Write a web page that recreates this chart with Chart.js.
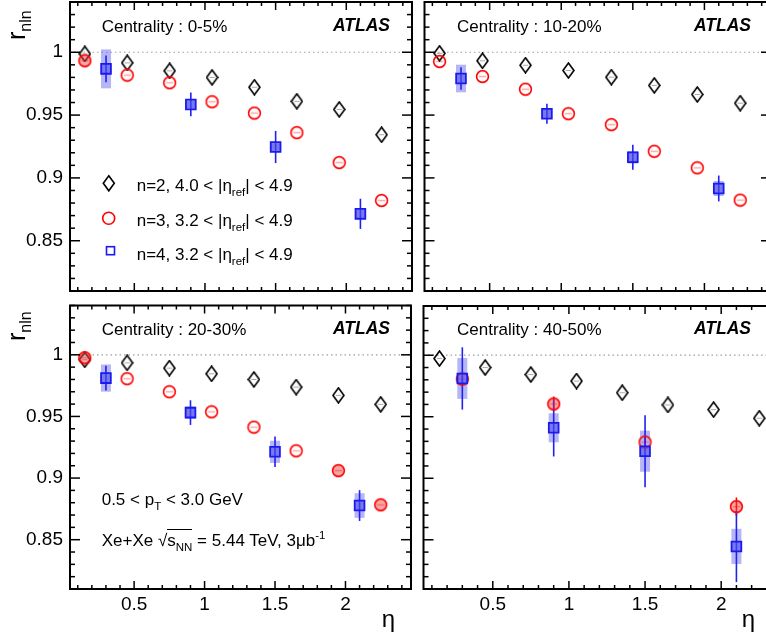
<!DOCTYPE html>
<html>
<head>
<meta charset="utf-8">
<script src="https://cdn.jsdelivr.net/npm/chart.js@4.4.0/dist/chart.umd.min.js"></script>
<style>
  html, body { margin: 0; padding: 0; background: #fff; }
  body { position: relative; width: 766px; height: 641px; overflow: hidden;
         font-family: "Liberation Sans", Arial, Helvetica, sans-serif; color: #000; }
  canvas { position: absolute; left: 0; top: 0; }
  .t { position: absolute; white-space: nowrap; font-size: 17px; line-height: 1; }
  .atlas { font-weight: bold; font-style: italic; font-size: 17.5px; }
  .sub { font-size: 11.5px; position: relative; top: 5px; }
  .sup { font-size: 11.5px; position: relative; top: -7px; }
  .ov { border-top: 1px solid #000; padding-top: 1px; }
  .ytitle { position: absolute; white-space: nowrap; font-size: 25px; line-height: 1;
            transform-origin: 0 0; transform: rotate(-90deg); }
  .ytitle span { font-size: 16px; position: relative; top: 6px; }
</style>
</head>
<body>
<canvas id="c0" width="820" height="641"></canvas>
<canvas id="c10" width="820" height="641"></canvas>
<canvas id="c20" width="820" height="641"></canvas>
<canvas id="c40" width="820" height="641"></canvas>

<div class="ytitle" style="left:4px;top:39.5px">r<span>nln</span></div>
<div class="ytitle" style="left:4px;top:341px">r<span>nln</span></div>

<div class="t" style="left:101.7px;top:18px">Centrality : 0-5%</div>
<div class="t atlas" style="right:376px;top:17.2px">ATLAS</div>
<div class="t" style="left:457px;top:18px">Centrality : 10-20%</div>
<div class="t atlas" style="right:15px;top:17.2px">ATLAS</div>
<div class="t" style="left:101.7px;top:320.6px">Centrality : 20-30%</div>
<div class="t atlas" style="right:376px;top:320px">ATLAS</div>
<div class="t" style="left:457px;top:320.6px">Centrality : 40-50%</div>
<div class="t atlas" style="right:15px;top:320px">ATLAS</div>

<svg style="position:absolute;left:95px;top:170px" width="30" height="95">
  <polygon points="13.8,5.8 19.3,13.3 13.8,20.8 8.3,13.3" fill="none" stroke="#000" stroke-width="1.6"/>
  <circle cx="13.7" cy="48.3" r="6" fill="none" stroke="#ff0000" stroke-width="1.6"/>
  <rect x="11.5" y="76.7" width="8" height="8" fill="none" stroke="#1a1af0" stroke-width="1.6"/>
</svg>
<div class="t" style="left:136.7px;top:177px">n=2, 4.0 &lt; |η<span class="sub">ref</span>| &lt; 4.9</div>
<div class="t" style="left:136.7px;top:212px">n=3, 3.2 &lt; |η<span class="sub">ref</span>| &lt; 4.9</div>
<div class="t" style="left:136.7px;top:246px">n=4, 3.2 &lt; |η<span class="sub">ref</span>| &lt; 4.9</div>

<div class="t" style="left:101.7px;top:490.6px">0.5 &lt; p<span class="sub">T</span> &lt; 3.0 GeV</div>
<div class="t" style="left:101.7px;top:531.6px">Xe+Xe √<span class="ov">s<span class="sub">NN</span></span> = 5.44 TeV, 3μb<span class="sup">-1</span></div>

<div class="t" style="left:381.7px;top:606.7px;font-size:24px">η</div>
<div class="t" style="left:741.7px;top:606.7px;font-size:24px">η</div>

<script>
const FONT = '"Liberation Sans", Arial, Helvetica, sans-serif';

// eta bin centres
const etaN2 = [0.15, 0.45, 0.75, 1.05, 1.35, 1.65, 1.95, 2.25];
const etaN4 = [0.3, 0.9, 1.5, 2.1];

// axis ticks / ranges
const xTicks = [0.5, 1, 1.5, 2];
const yTicks = [0.85, 0.9, 0.95, 1];
const xMin = 0.045, xMax = 2.465;
const yMin = 0.81, yMax = 1.04;

// centrality 0-5%
const c0_n2 = [0.9987, 0.9916, 0.9852, 0.980, 0.9722, 0.961, 0.9545, 0.9344];
const c0_n3 = [0.9932, 0.9818, 0.9757, 0.9606, 0.9516, 0.936, 0.9122, 0.882];
const c0_n4 = [0.9868, 0.9585, 0.9246, 0.8714];
const c0_n4Stat = [0.0106, 0.0095, 0.0128, 0.012];
const c0_n4Sys = [0.0155, 0.003, 0.003, 0.003];
const c0_n3Filled = [0];

// centrality 10-20%
const c10_n2 = [0.9992, 0.9932, 0.9897, 0.9855, 0.9802, 0.9736, 0.9664, 0.9595];
const c10_n3 = [0.9926, 0.9807, 0.9706, 0.9511, 0.9424, 0.9212, 0.908, 0.8823];
const c10_n4 = [0.9791, 0.9511, 0.9164, 0.8916];
const c10_n4Stat = [0.009, 0.008, 0.01, 0.0103];
const c10_n4Sys = [0.011, 0.004, 0.005, 0.006];
const c10_n3Filled = [];

// centrality 20-30%
const c20_n2 = [0.996, 0.9935, 0.9892, 0.9846, 0.980, 0.9738, 0.9671, 0.9598];
const c20_n3 = [0.9976, 0.9806, 0.970, 0.9537, 0.9413, 0.9221, 0.906, 0.8783];
const c20_n4 = [0.9811, 0.9531, 0.9213, 0.8777];
const c20_n4Stat = [0.0101, 0.01, 0.0124, 0.0125];
const c20_n4Sys = [0.011, 0.005, 0.009, 0.01];
const c20_n3Filled = [0, 6, 7];

// centrality 40-50% (n=3 only measured at the n=4 bins)
const c40_n2 = [0.9973, 0.990, 0.9843, 0.979, 0.9695, 0.9596, 0.9558, 0.9488];
const c40_n3 = [0.9806, 0.9604, 0.9294, 0.8769];
const c40_n3Stat = [0.003, 0.006, 0.004, 0.0075];
const c40_n4 = [0.9811, 0.941, 0.922, 0.8446];
const c40_n4Stat = [0.0253, 0.0233, 0.0293, 0.029];
const c40_n4Sys = [0.0166, 0.0118, 0.0167, 0.0143];
const c40_n3Filled = [1, 3];

function marker(w, h, draw) {
  const c = document.createElement('canvas');
  c.width = w; c.height = h;
  draw(c.getContext('2d'));
  return c;
}
const diamondImg = marker(13, 17, g => {
  g.strokeStyle = '#000'; g.lineWidth = 1.6;
  g.beginPath(); g.moveTo(6.5, 1); g.lineTo(12, 8.5); g.lineTo(6.5, 16); g.lineTo(1, 8.5); g.closePath(); g.stroke();
  g.strokeStyle = '#a8a8a8'; g.lineWidth = 1;
  g.beginPath(); g.moveTo(3.8, 8.5); g.lineTo(9.2, 8.5); g.stroke();
});
function circleImg(filled) {
  return marker(15, 15, g => {
    g.beginPath(); g.arc(7.5, 7.5, 5.9, 0, Math.PI * 2);
    if (filled) { g.fillStyle = 'rgba(240,60,60,0.45)'; g.fill(); }
    g.strokeStyle = '#ff0000'; g.lineWidth = 1.6; g.stroke();
    g.strokeStyle = 'rgba(255,0,0,0.35)'; g.lineWidth = 1.5;
    g.beginPath(); g.moveTo(3.8, 7.5); g.lineTo(11.2, 7.5); g.stroke();
  });
}
const circOpen = circleImg(false), circFull = circleImg(true);

const xy = (xs, ys) => xs.map((x, i) => ({ x, y: ys[i] }));

function decor(errors) {
  const line = (ctx, x1, y1, x2, y2) => { ctx.beginPath(); ctx.moveTo(x1, y1); ctx.lineTo(x2, y2); ctx.stroke(); };
  return {
    id: 'decor',
    beforeDatasetsDraw(chart) {
      const { ctx, chartArea: a, scales: { x, y } } = chart;
      ctx.save();
      const y1 = y.getPixelForValue(1);
      ctx.strokeStyle = '#a0a0a0'; ctx.lineWidth = 1.2; ctx.setLineDash([1.5, 3]);
      line(ctx, a.left, y1, a.right, y1);
      ctx.setLineDash([]);
      for (const e of errors) {
        e.xs.forEach((xv, i) => {
          const px = x.getPixelForValue(xv);
          if (e.sys) {
            const t = y.getPixelForValue(e.ys[i] + e.sys[i]);
            const b = y.getPixelForValue(e.ys[i] - e.sys[i]);
            ctx.fillStyle = 'rgba(80,80,235,0.42)';
            ctx.fillRect(px - 5, t, 10, b - t);
          }
          if (e.stat) {
            ctx.strokeStyle = e.color; ctx.lineWidth = 1.6;
            line(ctx, px, y.getPixelForValue(e.ys[i] + e.stat[i]), px, y.getPixelForValue(e.ys[i] - e.stat[i]));
          }
        });
      }
      ctx.restore();
    },
    afterDraw(chart) {
      const { ctx, chartArea: a, scales: { x, y } } = chart;
      ctx.save();
      ctx.strokeStyle = '#000'; ctx.lineWidth = 1.5;
      for (let i = Math.ceil(x.min * 10 - 1e-9); i <= Math.floor(x.max * 10 + 1e-9); i++) {
        const px = x.getPixelForValue(i / 10), len = i % 5 === 0 ? 8 : 4;
        line(ctx, px, a.bottom, px, a.bottom - len);
        line(ctx, px, a.top, px, a.top + len);
      }
      for (let i = Math.ceil(y.min * 100 - 1e-9); i <= Math.floor(y.max * 100 + 1e-9); i++) {
        const py = y.getPixelForValue(i / 100), len = i % 5 === 0 ? 10 : 5;
        line(ctx, a.left, py, a.left + len, py);
        line(ctx, a.right, py, a.right - len, py);
      }
      ctx.lineWidth = 2;
      ctx.strokeRect(a.left, a.top, a.right - a.left, a.bottom - a.top);
      ctx.restore();
    }
  };
}

function zeroPad(s) { s.paddingLeft = s.paddingRight = s.paddingTop = s.paddingBottom = 0; }
const tickFont = { family: FONT, size: 19 };

function panel(id, box, showX, showY, n2, n3x, n3, n3Filled, n3Stat, n4, n4Stat, n4Sys) {
  const Y_W = 70, X_H = 52;
  const errors = [{ xs: etaN4, ys: n4, stat: n4Stat, sys: n4Sys, color: '#2020f0' }];
  if (n3Stat) errors.unshift({ xs: n3x, ys: n3, stat: n3Stat, color: '#ff0000' });
  new Chart(document.getElementById(id), {
    type: 'scatter',
    data: {
      datasets: [
        { label: 'n=2', data: xy(etaN2, n2), pointStyle: diamondImg, pointRadius: 6, order: 3 },
        { label: 'n=3', data: xy(n3x, n3), order: 2, pointRadius: 6,
          pointStyle: ctx => n3Filled.includes(ctx.dataIndex) ? circFull : circOpen },
        { label: 'n=4', data: xy(etaN4, n4), order: 1, pointStyle: 'rect', pointRadius: 6.9,
          borderColor: '#1a1af0', backgroundColor: 'rgba(80,80,235,0.6)', borderWidth: 1.8 }
      ]
    },
    options: {
      responsive: false,
      animation: false,
      events: [],
      layout: {
        autoPadding: false,
        padding: {
          left: showY ? box.left - Y_W : box.left,
          top: box.top,
          right: 820 - box.right,
          bottom: showX ? 641 - box.bottom - X_H : 641 - box.bottom
        }
      },
      plugins: { legend: { display: false }, tooltip: { enabled: false } },
      scales: {
        x: {
          type: 'linear', min: xMin, max: xMax, display: showX, position: 'bottom',
          grid: { display: false, drawTicks: false }, border: { display: false },
          ticks: { font: tickFont, color: '#000', padding: 4, maxRotation: 0, autoSkip: false, callback: v => String(v) },
          afterBuildTicks: s => { s.ticks = xTicks.map(v => ({ value: v })); },
          afterFit: s => { if (showX) s.height = X_H; zeroPad(s); }
        },
        y: {
          type: 'linear', min: yMin, max: yMax, display: showY, position: 'left',
          grid: { display: false, drawTicks: false }, border: { display: false },
          ticks: { font: tickFont, color: '#000', padding: 7, autoSkip: false, callback: v => String(v) },
          afterBuildTicks: s => { s.ticks = yTicks.map(v => ({ value: v })); },
          afterFit: s => { if (showY) s.width = Y_W; zeroPad(s); }
        }
      }
    },
    plugins: [decor(errors)]
  });
}

panel('c0', { left: 70, top: 2, right: 412, bottom: 291 }, false, true,
      c0_n2, etaN2, c0_n3, c0_n3Filled, null, c0_n4, c0_n4Stat, c0_n4Sys);
panel('c10', { left: 424.5, top: 2, right: 771, bottom: 291 }, false, false,
      c10_n2, etaN2, c10_n3, c10_n3Filled, null, c10_n4, c10_n4Stat, c10_n4Sys);
panel('c20', { left: 70, top: 305.5, right: 411, bottom: 589 }, true, true,
      c20_n2, etaN2, c20_n3, c20_n3Filled, null, c20_n4, c20_n4Stat, c20_n4Sys);
panel('c40', { left: 423.5, top: 306, right: 792, bottom: 589 }, true, false,
      c40_n2, etaN4, c40_n3, c40_n3Filled, c40_n3Stat, c40_n4, c40_n4Stat, c40_n4Sys);
</script>
</body>
</html>
